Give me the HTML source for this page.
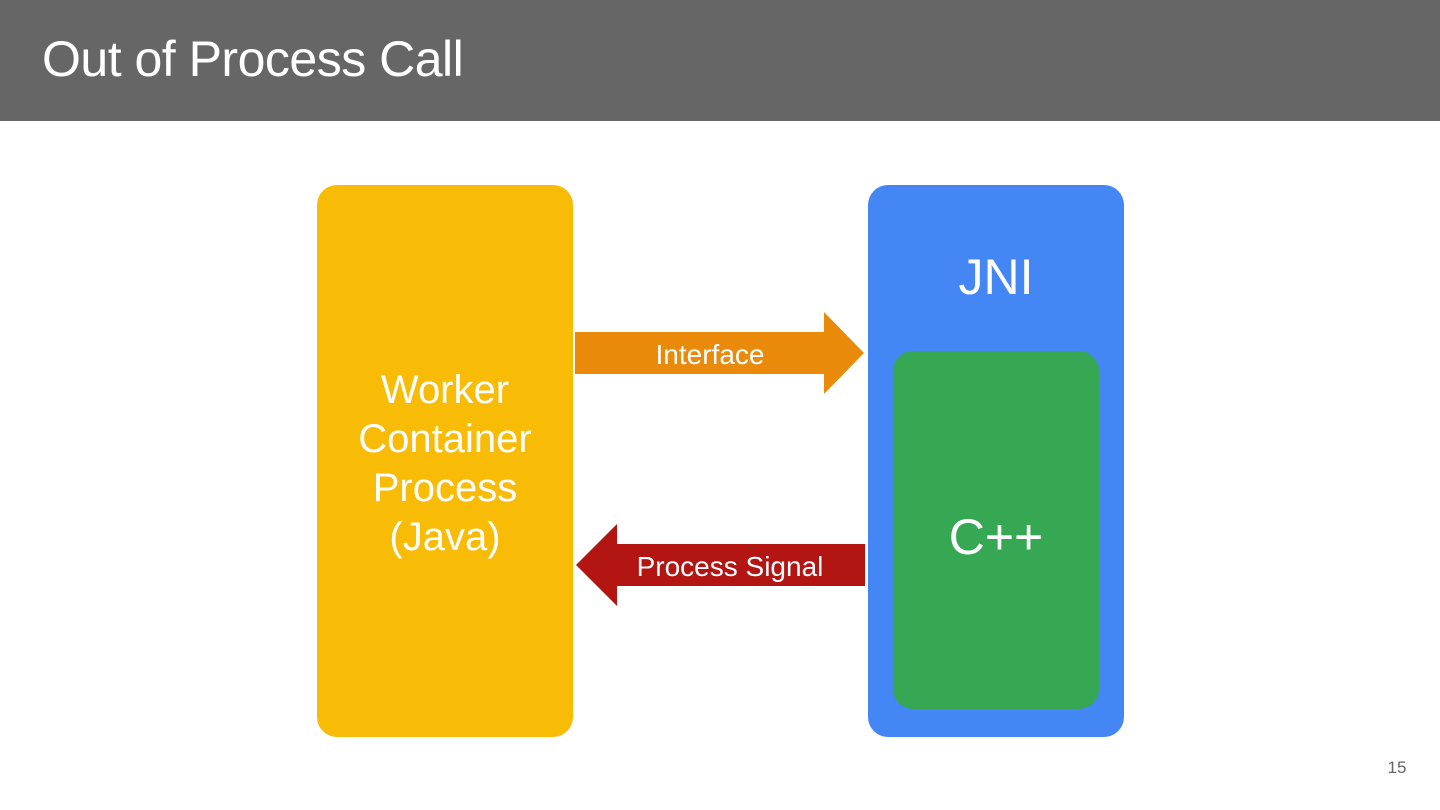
<!DOCTYPE html>
<html><head><style>
body{margin:0;width:1440px;height:810px;background:#fff;position:relative;overflow:hidden;font-family:"Liberation Sans",sans-serif}
.hdr{position:absolute;left:0;top:0;width:1440px;height:121px;background:#666}
.t{position:absolute;left:42px;top:30px;color:#fff;font-size:50px;letter-spacing:-0.5px}
.b{position:absolute;border-radius:20px}
.c{position:absolute;color:#fff;text-align:center}
</style></head><body>
<div class="hdr"></div><div class="t">Out of Process Call</div>
<div class="b" style="left:317px;top:185px;width:256px;height:552px;background:#f8bc06"></div>
<div class="c" style="left:317px;top:366px;width:256px;font-size:40px;line-height:49px">Worker<br>Container<br>Process<br>(Java)</div>
<div class="b" style="left:868px;top:185px;width:256px;height:552px;background:#4386f4"></div>
<div class="c" style="left:868px;top:248px;width:256px;font-size:50px">JNI</div>
<div class="b" style="left:893px;top:351px;width:206px;height:358px;background:#36a853"></div>
<div class="c" style="left:893px;top:508px;width:206px;font-size:50px">C++</div>
<svg style="position:absolute;left:0;top:0" width="1440" height="810">
<polygon points="575,332 824,332 824,312 864,353 824,394 824,374 575,374" fill="#ea8a0b"/>
<polygon points="865,544 617,544 617,524 576,565 617,606 617,586 865,586" fill="#b31512"/>
<text x="710" y="364" fill="#fff" font-size="28" text-anchor="middle" font-family="Liberation Sans">Interface</text>
<text x="730" y="576" fill="#fff" font-size="28" text-anchor="middle" font-family="Liberation Sans">Process Signal</text>
<text x="1397" y="773" fill="#666" font-size="17" text-anchor="middle" font-family="Liberation Sans">15</text>
</svg>
</body></html>
